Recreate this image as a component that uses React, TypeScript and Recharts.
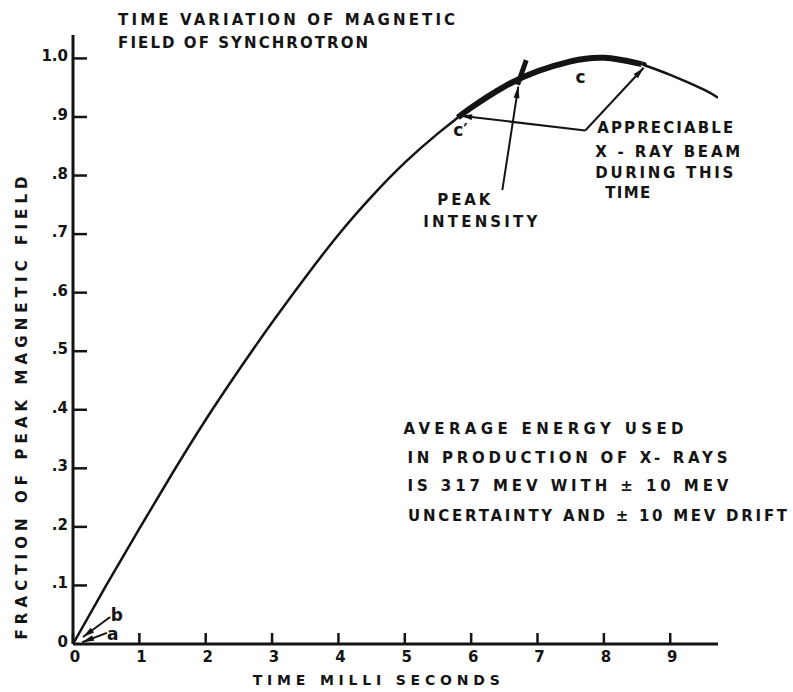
import React from "react";
import { Line, LineChart, ReferenceDot, ReferenceLine, XAxis, YAxis } from "recharts";

// (ms, fraction of peak field)
const timeMs = [0, 0.5, 1, 1.5, 2, 2.5, 3, 3.5, 4, 4.5, 5, 5.5, 5.8, 6, 6.5, 7, 7.5, 8, 8.5, 8.6, 9, 9.5, 9.72];
const fieldFraction = [
  0, 0.1, 0.197, 0.292, 0.383, 0.468, 0.549, 0.626, 0.699, 0.764, 0.822, 0.872, 0.899, 0.916, 0.952, 0.978, 0.995,
  1.001, 0.992, 0.989, 0.972, 0.947, 0.933,
];
// c' .. c, where the x-ray beam is appreciable
const beamStartMs = 5.8;
const beamEndMs = 8.6;

const xTicks = [0, 1, 2, 3, 4, 5, 6, 7, 8, 9];
const yTicks = [0, 0.1, 0.2, 0.3, 0.4, 0.5, 0.6, 0.7, 0.8, 0.9, 1.0];
const yTickLabels = ["0", ".1", ".2", ".3", ".4", ".5", ".6", ".7", ".8", ".9", "1.0"];

const data = timeMs.map((t, i) => ({
  t,
  field: fieldFraction[i],
  beam: t >= beamStartMs && t <= beamEndMs ? fieldFraction[i] : null,
}));

const INK = "#141414";
const FONT = '"DejaVu Sans", Verdana, sans-serif';

// hand lettering on the figure, placed in data coordinates
const notes = [
  { t: 0.68, v: 1.065, text: "TIME VARIATION OF MAGNETIC", w: 337 },
  { t: 0.68, v: 1.026, text: "FIELD OF SYNCHROTRON", w: 250 },
  { t: 4.98, v: 0.367, text: "AVERAGE ENERGY USED", w: 280 },
  { t: 5.04, v: 0.317, text: "IN PRODUCTION OF X- RAYS", w: 320 },
  { t: 5.04, v: 0.27, text: "IS 317 MEV WITH ± 10 MEV", w: 321 },
  { t: 5.05, v: 0.218, text: "UNCERTAINTY AND ± 10 MEV DRIFT", w: 379 },
  { t: 7.9, v: 0.881, text: "APPRECIABLE", w: 136 },
  { t: 7.87, v: 0.84, text: "X - RAY BEAM", w: 145 },
  { t: 7.87, v: 0.804, text: "DURING THIS", w: 138 },
  { t: 8.02, v: 0.77, text: "TIME", w: 45 },
  { t: 5.49, v: 0.759, text: "PEAK", w: 53 },
  { t: 5.28, v: 0.72, text: "INTENSITY", w: 114 },
];

const letters = [
  { t: 5.84, v: 0.877, text: "c\u2032" },
  { t: 7.65, v: 0.968, text: "c" },
  { t: 0.66, v: 0.049, text: "b" },
  { t: 0.6, v: 0.017, text: "a" },
];

const arrows = [
  { from: [7.72, 0.877], to: [5.84, 0.902] },
  { from: [7.72, 0.877], to: [8.6, 0.984] },
  { from: [6.47, 0.775], to: [6.71, 0.952] },
  { from: [0.56, 0.046], to: [0.15, 0.012] },
  { from: [0.51, 0.019], to: [0.14, 0.003] },
];

function Lettering(props: any) {
  const { cx, cy, text, width, anchor = "start", size = 15, rotate = 0 } = props;
  return (
    <text
      x={cx}
      y={cy}
      textAnchor={anchor}
      dominantBaseline="central"
      fontFamily={FONT}
      fontWeight="bold"
      fontSize={size}
      fill={INK}
      textLength={width}
      lengthAdjust={width ? "spacing" : undefined}
      transform={rotate ? `rotate(${rotate} ${cx} ${cy})` : undefined}
    >
      {text}
    </text>
  );
}

function Arrow(props: any) {
  const { x1, y1, x2, y2 } = props;
  const a = Math.atan2(y2 - y1, x2 - x1);
  const len = 12;
  const half = 0.25;
  const p1 = [x2 - len * Math.cos(a - half), y2 - len * Math.sin(a - half)];
  const p2 = [x2 - len * Math.cos(a + half), y2 - len * Math.sin(a + half)];
  return (
    <g>
      <line x1={x1} y1={y1} x2={x2} y2={y2} stroke={INK} strokeWidth={2} />
      <polygon points={`${x2},${y2} ${p1[0]},${p1[1]} ${p2[0]},${p2[1]}`} fill={INK} />
    </g>
  );
}

function XTick(props: any) {
  const { x, y, payload } = props;
  return (
    <g>
      <line x1={x} y1={y} x2={x} y2={y - 11} stroke={INK} strokeWidth={2.5} />
      <text x={x + 2} y={y + 13} textAnchor="middle" dominantBaseline="central" fontFamily={FONT} fontWeight="bold" fontSize={15} fill={INK}>
        {payload.value}
      </text>
    </g>
  );
}

function YTick(props: any) {
  const { x, y, payload } = props;
  const idx = yTicks.indexOf(payload.value);
  return (
    <g>
      {payload.value > 0 && <line x1={x} y1={y} x2={x + 14} y2={y} stroke={INK} strokeWidth={2.5} />}
      <text x={x - 5} y={y - 2} textAnchor="end" dominantBaseline="central" fontFamily={FONT} fontWeight="bold" fontSize={15} fill={INK}>
        {yTickLabels[idx]}
      </text>
    </g>
  );
}

export default function App() {
  return (
    <div style={{ position: "absolute", left: 0, top: 0, width: 793, height: 692, background: "#fff" }}>
      <LineChart width={793} height={692} data={data} margin={{ top: 35, right: 75, bottom: 8, left: 18 }}>
        <XAxis
          type="number"
          dataKey="t"
          domain={[0, 9.72]}
          ticks={xTicks}
          allowDataOverflow
          height={40}
          tickSize={0}
          tickMargin={0}
          tick={<XTick />}
          axisLine={{ stroke: INK, strokeWidth: 3 }}
          tickLine={false}
        />
        <YAxis
          type="number"
          domain={[0, 1.04]}
          ticks={yTicks}
          allowDataOverflow
          width={55}
          tickSize={0}
          tickMargin={0}
          tick={<YTick />}
          axisLine={{ stroke: INK, strokeWidth: 3 }}
          tickLine={false}
        />
        <Line type="natural" dataKey="field" stroke={INK} strokeWidth={2.5} dot={false} isAnimationActive={false} />
        <Line type="natural" dataKey="beam" stroke={INK} strokeWidth={6} dot={false} isAnimationActive={false} connectNulls={false} />
        <ReferenceLine
          segment={[{ x: 6.7, y: 0.955 }, { x: 6.83, y: 0.997 }]}
          ifOverflow="visible"
          shape={(p: any) => <line x1={p.x1} y1={p.y1} x2={p.x2} y2={p.y2} stroke={INK} strokeWidth={5} />}
        />
        {arrows.map((a, i) => (
          <ReferenceLine
            key={`arrow-${i}`}
            segment={[{ x: a.from[0], y: a.from[1] }, { x: a.to[0], y: a.to[1] }]}
            ifOverflow="visible"
            shape={(p: any) => <Arrow {...p} />}
          />
        ))}
        {notes.map((n) => (
          <ReferenceDot
            key={n.text}
            x={n.t}
            y={n.v}
            ifOverflow="visible"
            shape={(p: any) => <Lettering cx={p.cx} cy={p.cy} text={n.text} width={n.w} />}
          />
        ))}
        {letters.map((n) => (
          <ReferenceDot
            key={n.text}
            x={n.t}
            y={n.v}
            ifOverflow="visible"
            shape={(p: any) => <Lettering cx={p.cx} cy={p.cy} text={n.text} anchor="middle" size={17} />}
          />
        ))}
        <ReferenceDot
          x={4.57}
          y={-0.062}
          ifOverflow="visible"
          shape={(p: any) => <Lettering cx={p.cx} cy={p.cy} text="TIME   MILLI SECONDS" width={247} anchor="middle" size={14} />}
        />
        <ReferenceDot
          x={-0.77}
          y={0.403}
          ifOverflow="visible"
          shape={(p: any) => (
            <Lettering cx={p.cx} cy={p.cy} text="FRACTION OF PEAK MAGNETIC FIELD" width={463} anchor="middle" rotate={-90} />
          )}
        />
      </LineChart>
    </div>
  );
}
